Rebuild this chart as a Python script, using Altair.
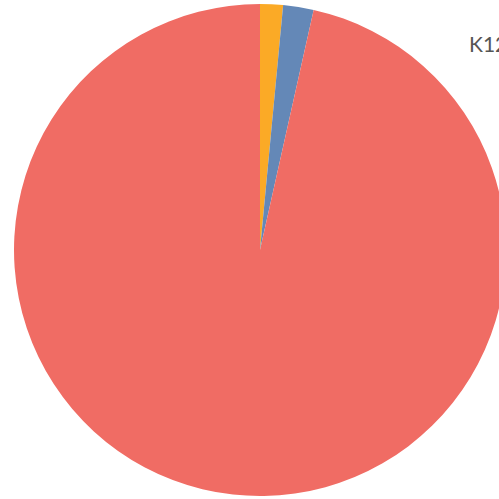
import altair as alt
import pandas as pd

categories = ["Higher Ed", "Corporate", "K12"]
shares = [1.5, 2.0, 96.5]
order = [0, 1, 2]
colors = ["#FBAA26", "#6488B7", "#F06C64"]
label_text = ["K12"]

df = pd.DataFrame({"category": categories, "share": shares, "order": order})
lab = pd.DataFrame({"t": label_text})

pie = alt.Chart(df).mark_arc(radius=246, stroke=None).encode(
    theta=alt.Theta("share:Q", stack=True),
    order=alt.Order("order:Q"),
    color=alt.Color("category:N", scale=alt.Scale(domain=categories, range=colors), legend=None),
    x=alt.value(260),
    y=alt.value(250),
)

text = alt.Chart(lab).mark_text(
    align="left", baseline="alphabetic", fontSize=21, font="Lato", color="#555555"
).encode(text="t:N", x=alt.value(469), y=alt.value(52))

chart = alt.layer(pie, text).properties(
    width=499, height=499, padding=0, autosize=alt.AutoSizeParams(type="none")
).configure_view(stroke=None)

chart.save("out.html", embed_options={"renderer": "svg", "actions": False})
